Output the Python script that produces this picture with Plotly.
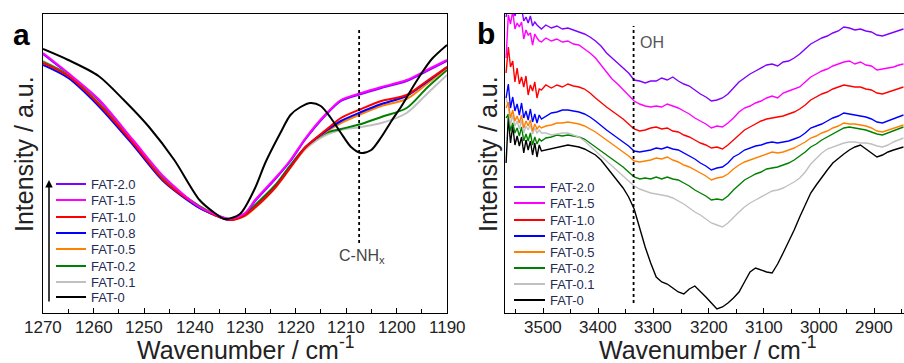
import plotly.graph_objects as go

W, H = 904, 363

names = ["FAT-2.0", "FAT-1.5", "FAT-1.0", "FAT-0.8", "FAT-0.5", "FAT-0.2", "FAT-0.1", "FAT-0"]
colors = ["#7f00ff", "#ff00ff", "#ff0000", "#0000ff", "#ff8000", "#008000", "#c0c0c0", "#000000"]

# ---------------- Panel a (1270-1190 cm-1) ----------------
wn_a = [1270, 1265, 1259, 1252, 1246, 1239, 1236, 1233, 1230, 1228, 1224, 1221, 1218, 1214, 1211, 1207, 1203, 1198, 1194, 1190]
a_fat20 = [259, 239, 213, 171, 135, 105, 98, 93, 99, 112, 134, 152, 174, 198, 212, 219, 225, 232, 242, 252]
a_fat15 = [260, 240, 214, 172, 136, 106, 99, 94, 100, 113, 135, 153, 175, 199, 213, 220, 226, 233, 243, 253]
a_fat10 = [250, 237, 209, 169, 132, 106, 98, 93, 98, 106, 126, 146, 166, 183, 195, 204, 212, 218, 232, 246]
a_fat08 = [248, 235, 207, 167, 131, 105, 98, 93, 98, 106, 126, 146, 166, 182, 192, 201, 209, 217, 231, 246]
a_fat05 = [250, 237, 209, 169, 132, 106, 98, 93, 97, 105, 125, 145, 165, 181, 190, 199, 207, 214, 229, 245]
a_fat02 = [251, 238, 210, 170, 133, 107, 99, 94, 99, 108, 128, 148, 166, 180, 184, 189, 196, 205, 225, 243]
a_fat01 = [252, 238, 210, 170, 133, 106, 98, 93, 98, 107, 127, 146, 164, 178, 183, 186, 190, 200, 219, 238]
wn_a0 = [1270, 1265, 1259, 1254, 1249, 1244, 1239, 1236, 1234, 1231, 1228, 1226, 1223, 1221, 1219, 1217, 1215, 1213, 1211, 1209, 1207, 1205, 1203, 1201, 1199, 1197, 1195, 1193, 1190]
a_fat0 = [264, 253, 237, 213, 186, 153, 113, 100, 94, 99, 125, 150, 180, 198, 206, 210, 207, 195, 180, 166, 160, 163, 176, 192, 207, 224, 240, 254, 268]

# ---------------- Panel b (3570-2846 cm-1) ----------------
wn_b = [3567, 3563, 3559, 3555, 3551, 3547, 3543, 3539, 3535, 3531, 3527, 3523, 3519, 3515, 3511, 3507, 3503,
        3495, 3485, 3475, 3465, 3455, 3445, 3435, 3425, 3415, 3405, 3395, 3385, 3375, 3365, 3355, 3345, 3335,
        3325, 3315, 3305, 3295, 3285, 3275, 3265, 3255, 3245, 3235, 3225, 3215, 3205, 3195, 3185, 3175, 3165,
        3155, 3145, 3135, 3125, 3115, 3105, 3095, 3085, 3075, 3065, 3055, 3045, 3035, 3025, 3015, 3005, 2995,
        2985, 2975, 2965, 2955, 2945, 2935, 2925, 2915, 2905, 2895, 2885, 2875, 2865, 2855, 2847]
b_fat20 = [296, 310, 301, 313, 297, 304, 300, 305, 292, 296, 290, 297, 287, 291, 288, 286, 284,
           288, 285, 287, 284, 285, 283, 281, 279, 276, 272, 267, 260, 255, 250, 245, 240, 233,
           232, 230, 232, 232, 235, 233, 236, 232, 229, 227, 223, 219, 216, 212, 213, 215, 219,
           225, 231, 235, 239, 242, 245, 248, 249, 247, 251, 252, 255, 259, 264, 269, 272, 275,
           277, 280, 282, 286, 285, 283, 284, 282, 281, 278, 277, 279, 281, 283, 284]
b_fat15 = [255, 298, 289, 302, 284, 290, 286, 291, 274, 283, 278, 280, 268, 279, 275, 272, 271,
           275, 272, 274, 271, 272, 269, 268, 264, 260, 255, 248, 241, 234, 229, 223, 218, 212,
           209, 207, 206, 207, 206, 209, 207, 205, 202, 199, 195, 192, 189, 185, 187, 186, 190,
           195, 201, 205, 207, 210, 212, 215, 217, 215, 220, 222, 224, 226, 231, 236, 239, 242,
           244, 247, 249, 251, 252, 249, 251, 248, 247, 243, 244, 245, 246, 248, 249]
b_fat10 = [240, 266, 246, 252, 231, 245, 229, 236, 226, 237, 218, 228, 222, 231, 215, 224, 223,
           228, 225, 228, 226, 229, 227, 226, 224, 220, 215, 210, 206, 202, 198, 194, 189, 184,
           182, 183, 185, 186, 184, 185, 182, 181, 178, 176, 173, 170, 168, 165, 166, 164, 168,
           173, 178, 183, 186, 189, 192, 194, 195, 196, 197, 199, 201, 204, 208, 213, 216, 219,
           221, 224, 226, 228, 227, 226, 226, 224, 223, 220, 219, 221, 223, 225, 226]
b_fat08 = [215, 229, 205, 216, 202, 209, 198, 210, 195, 202, 193, 204, 191, 199, 190, 198, 194,
           197, 200, 201, 203, 203, 202, 201, 199, 196, 192, 187, 183, 179, 175, 171, 167, 162,
           161, 162, 163, 165, 164, 166, 164, 163, 160, 157, 154, 150, 147, 143, 145, 146, 150,
           156, 159, 163, 165, 167, 168, 170, 171, 170, 171, 172, 174, 176, 180, 185, 187, 189,
           192, 195, 197, 200, 199, 198, 197, 196, 194, 191, 190, 192, 194, 196, 198]
b_fat05 = [205, 211, 195, 203, 192, 197, 190, 198, 185, 192, 187, 193, 182, 189, 184, 187, 185,
           187, 188, 190, 190, 191, 190, 189, 187, 184, 181, 177, 173, 169, 165, 161, 157, 152,
           151, 152, 153, 155, 154, 156, 153, 151, 148, 146, 143, 140, 137, 133, 135, 136, 139,
           144, 148, 151, 153, 155, 157, 159, 161, 160, 161, 163, 165, 168, 171, 175, 177, 180,
           182, 185, 187, 190, 189, 189, 188, 187, 185, 182, 181, 183, 185, 187, 188]
b_fat02 = [195, 199, 182, 190, 180, 185, 177, 186, 172, 179, 172, 180, 168, 176, 169, 174, 172,
           175, 176, 178, 177, 178, 177, 176, 174, 170, 166, 162, 158, 154, 150, 146, 141, 136,
           134, 135, 134, 136, 134, 136, 134, 133, 130, 127, 123, 120, 117, 113, 114, 113, 117,
           123, 128, 133, 136, 139, 141, 144, 145, 146, 148, 150, 153, 157, 161, 166, 169, 173,
           176, 179, 182, 185, 186, 185, 184, 183, 181, 179, 178, 180, 182, 184, 186]
b_fat01 = [215, 206, 188, 198, 187, 192, 184, 193, 180, 187, 183, 188, 179, 185, 180, 183, 180,
           180, 178, 179, 180, 180, 178, 176, 172, 167, 162, 157, 151, 146, 142, 137, 132, 127,
           124, 122, 120, 119, 118, 117, 115, 112, 109, 105, 101, 98, 94, 90, 88, 86, 90,
           96, 101, 106, 110, 113, 116, 119, 122, 123, 125, 128, 131, 135, 141, 149, 155, 160,
           164, 166, 168, 170, 171, 171, 170, 170, 169, 167, 166, 168, 171, 173, 175]
b_fat0 = [150, 196, 170, 187, 168, 177, 167, 176, 160, 173, 163, 172, 158, 170, 156, 168, 162,
          163, 165, 166, 167, 168, 167, 166, 164, 161, 158, 153, 146, 140, 133, 125, 116, 104,
          85, 66, 50, 36, 31, 29, 25, 21, 19, 24, 27, 22, 16, 10, 4, 6, 10,
          15, 21, 31, 41, 45, 43, 41, 40, 49, 60, 71, 83, 96, 108, 120, 128, 136,
          143, 150, 155, 159, 163, 166, 168, 164, 160, 156, 158, 161, 163, 165, 166]

a_series = [a_fat20, a_fat15, a_fat10, a_fat08, a_fat05, a_fat02, a_fat01]
b_series = [b_fat20, b_fat15, b_fat10, b_fat08, b_fat05, b_fat02, b_fat01, b_fat0]

tick_a = [1270, 1260, 1250, 1240, 1230, 1220, 1210, 1200, 1190]
tick_b = [3500, 3400, 3300, 3200, 3100, 3000, 2900]

FONT = "Arial, Liberation Sans, sans-serif"


def px(x):
    return x / W


def py(y):
    return 1 - y / H


fig = go.Figure()

# panel a traces (draw FAT-2.0 first so FAT-1.5 covers it)
order_a = [0, 6, 5, 4, 3, 2, 1]
for i in order_a:
    fig.add_trace(go.Scatter(x=wn_a, y=a_series[i], mode="lines", name=names[i],
                             line=dict(color=colors[i], width=2, shape="spline", smoothing=0.8),
                             showlegend=False, xaxis="x", yaxis="y"))
fig.add_trace(go.Scatter(x=wn_a0, y=a_fat0, mode="lines", name="FAT-0",
                         line=dict(color="#000000", width=2, shape="spline", smoothing=0.8),
                         showlegend=False, xaxis="x", yaxis="y"))

# panel b traces
order_b = [7, 5, 6, 4, 3, 2, 1, 0]
for i in order_b:
    fig.add_trace(go.Scatter(x=wn_b, y=b_series[i], mode="lines", name=names[i],
                             line=dict(color=colors[i], width=1.4), showlegend=False,
                             xaxis="x2", yaxis="y2"))

ydom = [py(313), py(14)]
axis_common = dict(showgrid=False, zeroline=False, showline=True, linecolor="#000000",
                   linewidth=1, mirror=True, automargin=False)

fig.update_layout(
    width=W, height=H,
    margin=dict(l=0, r=0, t=0, b=0, autoexpand=False),
    paper_bgcolor="white", plot_bgcolor="white",
    font=dict(family=FONT, color="#222222"),
    xaxis=dict(domain=[px(43), px(447)], range=[1270, 1190], tickvals=tick_a,
               showticklabels=False,
               ticks="inside", ticklen=5, tickwidth=1, tickcolor="#000000",
               minor=dict(ticks="inside", ticklen=4, dtick=5, tick0=1190, tickcolor="#000000"),
               anchor="y", **axis_common),
    yaxis=dict(domain=ydom, range=[0, 299], showticklabels=False, ticks="",
               anchor="x", **axis_common),
    xaxis2=dict(domain=[px(505), 1.0], range=[3569, 2846], tickvals=tick_b,
                showticklabels=False,
                ticks="inside", ticklen=5, tickwidth=1, tickcolor="#000000",
                minor=dict(ticks="inside", ticklen=4, dtick=50, tick0=2900, tickcolor="#000000"),
                anchor="y2", **axis_common),
    yaxis2=dict(domain=ydom, range=[0, 299], showticklabels=False, ticks="",
                anchor="x2", **axis_common),
)

ann = []
shapes = []

# tick labels (placed at the axis' own data positions)
for xr, ticks in (("x", tick_a), ("x2", tick_b)):
    for t in ticks:
        ann.append(dict(x=t, y=py(327), xref=xr, yref="paper", showarrow=False,
                        text=str(t), xanchor="center", yanchor="middle",
                        font=dict(size=17, family=FONT, color="#222222")))

# axis titles
for cx in (245, 707):
    ann.append(dict(x=px(cx), y=py(348), xref="paper", yref="paper", showarrow=False,
                    text="Wavenumber / cm<sup>-1</sup>", xanchor="center", yanchor="middle",
                    font=dict(size=25, family=FONT, color="#222222")))
for cx in (24, 488):
    ann.append(dict(x=px(cx), y=py(154), xref="paper", yref="paper", showarrow=False,
                    text="Intensity / a.u.", textangle=-90, xanchor="center", yanchor="middle",
                    font=dict(size=25, family=FONT, color="#222222")))

# panel letters
ann.append(dict(x=px(21), y=py(35), xref="paper", yref="paper", showarrow=False, text="<b>a</b>",
                xanchor="center", yanchor="middle", font=dict(size=30, family=FONT, color="#000000")))
ann.append(dict(x=px(486), y=py(33), xref="paper", yref="paper", showarrow=False, text="<b>b</b>",
                xanchor="center", yanchor="middle", font=dict(size=30, family=FONT, color="#000000")))

# marker lines and labels
shapes.append(dict(type="line", xref="x", yref="paper", x0=1207.4, x1=1207.4, y0=py(243), y1=py(30),
                   line=dict(color="#000000", width=1.8, dash="dot")))
ann.append(dict(x=px(362), y=py(256), xref="paper", yref="paper", showarrow=False,
                text="C-NH<sub>x</sub>", xanchor="center", yanchor="middle",
                font=dict(size=16, family=FONT, color="#444444")))
shapes.append(dict(type="line", xref="x2", yref="paper", x0=3336, x1=3336, y0=py(303), y1=py(26),
                   line=dict(color="#000000", width=1.8, dash="dot")))
ann.append(dict(x=px(638), y=py(43), xref="paper", yref="paper", showarrow=False,
                text="OH", xanchor="left", yanchor="middle",
                font=dict(size=16, family=FONT, color="#555555")))

# legends (drawn manually)
rows_a = [184, 200, 217, 233, 249, 266, 282, 297]
rows_b = [187, 203, 220, 236, 252, 268, 284, 300]
for (rows, lx0, lx1, tx) in ((rows_a, 56, 86, 89), (rows_b, 514, 545, 548)):
    for i, ry in enumerate(rows):
        shapes.append(dict(type="line", xref="paper", yref="paper", x0=px(lx0), x1=px(lx1),
                           y0=py(ry), y1=py(ry), line=dict(color=colors[i], width=2)))
        ann.append(dict(x=px(tx), y=py(ry), xref="paper", yref="paper", showarrow=False,
                        text=names[i], xanchor="left", yanchor="middle",
                        font=dict(size=13, family=FONT, color="#1f2a55")))

# arrow in panel a legend
ann.append(dict(x=px(49), y=py(180), xref="paper", yref="paper", text="", showarrow=True,
                ax=0, ay=123, arrowhead=2, arrowsize=1, arrowwidth=1.5, arrowcolor="#000000"))

fig.update_layout(annotations=ann, shapes=shapes)
fig.write_html("out.html", config={"displayModeBar": False, "staticPlot": True},
               post_script="document.body.style.margin='0px';document.body.style.overflow='hidden';")
